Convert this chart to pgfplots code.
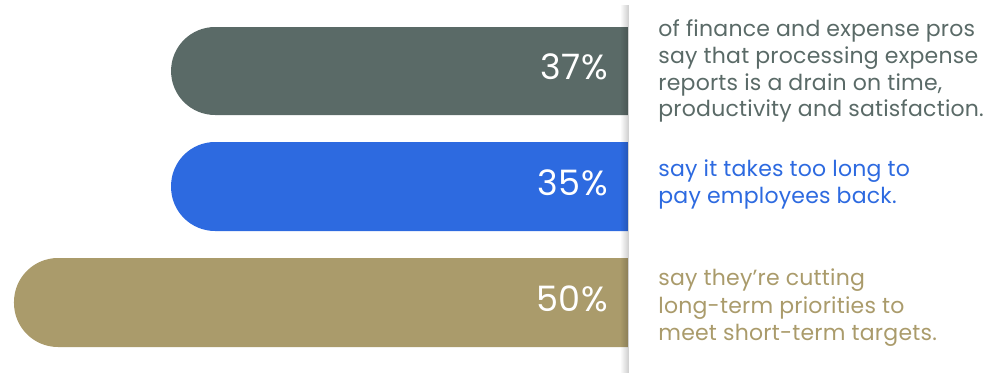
\documentclass[border=0pt]{standalone}
\usepackage{pgfplots}
\pgfplotsset{compat=1.18}
\usepackage{fontspec}
\setmainfont{Poppins}
\newfontfamily\pctfont[LetterSpace=2]{Poppins}
\newfontfamily\txtfont[LetterSpace=1]{Poppins}
\usetikzlibrary{fadings}
\definecolor{cgray}{HTML}{5A6A67}
\definecolor{cblue}{HTML}{2D6AE0}
\definecolor{cgold}{HTML}{AA9B6B}
\tikzfading[name=shadowfade, left color=transparent!100, right color=transparent!0]
\begin{document}
\begin{tikzpicture}
\begin{axis}[
  scale only axis, width=500pt, height=190pt,
  x dir=reverse, xmin=-30.293, xmax=51.140,
  y dir=reverse, ymin=0, ymax=380,
  axis lines=none, clip=false,
]
\path[use as bounding box] (rel axis cs:0,0) rectangle (rel axis cs:1,1);
% bars (length in percent units, y extent in px rows)
\addplot[fill=cgray, draw=none, rounded corners=22pt] coordinates {(0,27) (37.21,27) (37.21,115) (0,115)};
\addplot[fill=cblue, draw=none, rounded corners=22pt] coordinates {(0,142) (37.21,142) (37.21,231) (0,231)};
\addplot[fill=cgold, draw=none, rounded corners=22pt] coordinates {(0,258) (50,258) (50,347) (0,347)};
% divider with shadow
\fill[black, path fading=shadowfade, fill opacity=0.2] (axis cs:0.651,5) rectangle (axis cs:-0.081,373);
% value labels
\begin{scope}[every node/.style={anchor=base east, inner sep=0pt, text=white, font=\pctfont\fontsize{17.5}{20}\selectfont}]
\node at (axis cs:1.6,79.8) {37\%};
\node at (axis cs:1.6,195.5) {35\%};
\node at (axis cs:1.6,311) {50\%};
\end{scope}
% descriptions
\begin{scope}[every node/.style={anchor=base west, inner sep=0pt, font=\txtfont\fontsize{11}{13}\selectfont}]
\node[text=cgray] at (axis cs:-2.443,36.7) {of finance and expense pros};
\node[text=cgray] at (axis cs:-2.443,63.3) {say that processing expense};
\node[text=cgray] at (axis cs:-2.443,90) {reports is a drain on time,};
\node[text=cgray] at (axis cs:-2.443,116.7) {productivity and satisfaction.};
\node[text=cblue] at (axis cs:-2.443,176) {say it takes too long to};
\node[text=cblue] at (axis cs:-2.443,203) {pay employees back.};
\node[text=cgold] at (axis cs:-2.443,285.7) {say they’re cutting};
\node[text=cgold] at (axis cs:-2.443,313.3) {long-term priorities to};
\node[text=cgold] at (axis cs:-2.443,340) {meet short-term targets.};
\end{scope}
\end{axis}
\end{tikzpicture}
\end{document}
